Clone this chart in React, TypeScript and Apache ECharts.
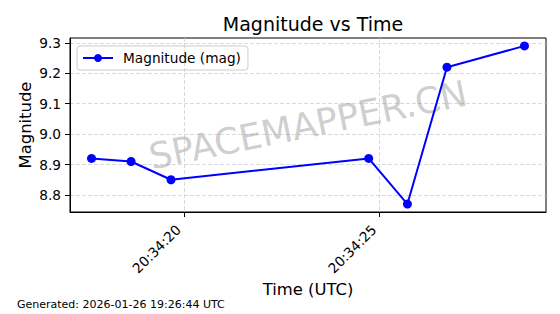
import React, { useEffect, useRef } from "react";
import * as echarts from "echarts";

const times = ["20:34:17.64", "20:34:18.65", "20:34:19.67", "20:34:24.72", "20:34:25.71", "20:34:26.72", "20:34:28.70"];
const magnitudes = [8.92, 8.91, 8.85, 8.92, 8.77, 9.22, 9.29];
const xTickLabels = ["20:34:20", "20:34:25"];
const yTicks = [8.8, 8.9, 9.0, 9.1, 9.2, 9.3];
const xRange = ["20:34:17.09", "20:34:29.25"];
const yRange = [8.744, 9.316];

const toSec = (t: string) => {
  const [h, m, s] = t.split(":");
  return Number(h) * 3600 + Number(m) * 60 + Number(s);
};
const pad = (n: number) => String(n).padStart(2, "0");
const fmt = (v: number) => {
  const r = Math.round(v);
  return `${pad(Math.floor(r / 3600))}:${pad(Math.floor((r % 3600) / 60))}:${pad(r % 60)}`;
};

const FONT = "DejaVu Sans";

export default function App() {
  const ref = useRef<HTMLDivElement>(null);
  useEffect(() => {
    const chart = echarts.init(ref.current!, null, { renderer: "svg" });
    const gridLine = { show: true, lineStyle: { color: "#d0d0d0", type: [4, 2] as any, width: 0.8 } };
    chart.setOption({
      animation: false,
      backgroundColor: "#fff",
      title: {
        text: "Magnitude vs Time",
        left: 308,
        top: 9,
        textAlign: "center",
        textStyle: { fontFamily: FONT, fontSize: 19, fontWeight: "normal", color: "#000" },
      },
      legend: {
        left: 77,
        top: 46,
        padding: [5, 7, 5, 5],
        borderColor: "#cccccc",
        borderWidth: 1,
        borderRadius: 3,
        itemWidth: 30,
        itemHeight: 10,
        itemGap: 6,
        textStyle: { fontFamily: FONT, fontSize: 13.7, color: "#000", padding: [0, 0, 0, 5] },
        data: ["Magnitude (mag)"],
      },
      grid: {
        left: 70,
        top: 38,
        width: 476,
        height: 174,
        show: true,
        borderColor: "#000",
        borderWidth: 1,
        backgroundColor: "transparent",
      },
      xAxis: {
        type: "value",
        min: toSec(xRange[0]),
        max: toSec(xRange[1]),
        name: "Time (UTC)",
        nameLocation: "middle",
        nameGap: 69,
        nameMoveOverlap: false,
        nameTextStyle: { fontFamily: FONT, fontSize: 16.4, color: "#000" },
        axisLine: { show: true, onZero: false, lineStyle: { color: "#000", width: 1 } },
        axisTick: { show: true, length: 5, lineStyle: { color: "#000" }, customValues: xTickLabels.map(toSec) },
        axisLabel: {
          customValues: xTickLabels.map(toSec),
          formatter: (v: number) => fmt(v),
          rotate: 45,
          margin: 9.6,
          padding: [0, 8, 0, 0],
          fontFamily: FONT,
          fontSize: 13.7,
          color: "#000",
        },
        splitLine: gridLine,
      },
      yAxis: {
        type: "value",
        min: yRange[0],
        max: yRange[1],
        name: "Magnitude",
        nameLocation: "middle",
        nameGap: 37,
        nameMoveOverlap: false,
        nameTextStyle: { fontFamily: FONT, fontSize: 16.4, color: "#000" },
        axisLine: { show: true, onZero: false, lineStyle: { color: "#000", width: 1 } },
        axisTick: { show: true, length: 5, lineStyle: { color: "#000" }, customValues: yTicks },
        axisLabel: {
          customValues: yTicks,
          formatter: (v: number) => v.toFixed(1),
          margin: 9,
          fontFamily: FONT,
          fontSize: 13.7,
          color: "#000",
        },
        splitLine: gridLine,
      },
      graphic: [
        {
          type: "text",
          x: 308,
          y: 125,
          rotation: (11.5 * Math.PI) / 180,
          z: 1,
          style: {
            text: "SPACEMAPPER.CN",
            fontFamily: FONT,
            fontSize: 36,
            fill: "rgba(128,128,128,0.4)",
            align: "center",
            verticalAlign: "middle",
          },
        },
        {
          type: "text",
          left: 17,
          top: 299,
          style: {
            text: "Generated: 2026-01-26 19:26:44 UTC",
            fontFamily: FONT,
            fontSize: 11,
            fill: "#000",
          },
        },
      ],
      series: [
        {
          name: "Magnitude (mag)",
          type: "line",
          data: times.map((t, i) => [toSec(t), magnitudes[i]]),
          symbol: "circle",
          symbolSize: 9,
          itemStyle: { color: "#0000ff" },
          lineStyle: { color: "#0000ff", width: 2 },
          z: 5,
        },
      ],
    });
    return () => chart.dispose();
  }, []);
  return <div ref={ref} style={{ position: "fixed", left: 0, top: 0, width: 560, height: 314 }} />;
}
